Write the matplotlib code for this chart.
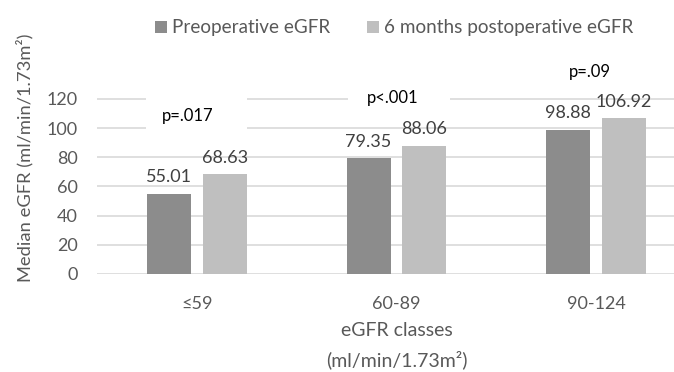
import matplotlib
matplotlib.use("Agg")
import matplotlib.pyplot as plt
from matplotlib.patches import Rectangle
import numpy as np

plt.rcParams['font.family'] = ['Lato', 'DejaVu Sans']

# Data
categories = ["≤59", "60-89", "90-124"]
preop = [55.01, 79.35, 98.88]
postop = [68.63, 88.06, 106.92]
p_values = ["p=.017", "p<.001", "p=.09"]
series_names = ["Preoperative eGFR", "6 months postoperative eGFR"]
y_ticks = [0, 20, 40, 60, 80, 100, 120]

W, H = 674, 372
fig = plt.figure(figsize=(W / 100, H / 100), dpi=100)
ax = fig.add_axes([97 / W, (H - 274) / H, 599 / W, (274 - 69.8) / H])

c_pre = "#8c8c8c"
c_post = "#bfbfbf"
txt_grey = "#595959"

x = np.arange(len(categories))
bw = 0.22
off = 0.14
b1 = ax.bar(x - off, preop, bw, color=c_pre, zorder=3)
b2 = ax.bar(x + off, postop, bw, color=c_post, zorder=3)

ax.set_xlim(-0.5, 2.5)
ax.set_ylim(0, 140)
ax.set_yticks(y_ticks)
ax.set_xticks(x)
ax.set_xticklabels(categories)
ax.tick_params(axis='both', length=0, labelsize=13, colors=txt_grey)
ax.tick_params(axis='y', pad=14)
ax.tick_params(axis='x', pad=16)
for s in ax.spines.values():
    s.set_visible(False)
ax.grid(axis='y', color="#d9d9d9", linewidth=1.2, zorder=0)
ax.set_axisbelow(True)

# Value labels
for bars, vals in ((b1, preop), (b2, postop)):
    for rect, v in zip(bars, vals):
        ax.annotate(f"{v:.2f}", (rect.get_x() + rect.get_width() / 2, v),
                    xytext=(0, 6), textcoords="offset points",
                    ha="center", va="bottom", fontsize=13, color="#404040",
                    zorder=4)

# p-value boxes (white backgrounds hide gridlines)
ax.add_patch(Rectangle((-0.254, 97), 0.506, 26, facecolor="white",
                       edgecolor="none", zorder=1))
ax.text(-0.045, 108.5, p_values[0], ha="center", va="center", fontsize=12,
        color="black", zorder=5)
ax.add_patch(Rectangle((0.758, 114), 0.511, 14, facecolor="white",
                       edgecolor="none", zorder=1))
ax.text(0.983, 120.5, p_values[1], ha="center", va="center", fontsize=12,
        color="black", zorder=5)
ax.text(1.97, 138.5, p_values[2], ha="center", va="center", fontsize=12,
        color="black", zorder=5, clip_on=False)

# Axis titles
fig.text(397 / W, 1 - 331 / H, "eGFR classes", ha="center", va="center",
         fontsize=14, color=txt_grey)
fig.text(397 / W, 1 - 360 / H, "(ml/min/1.73m²)", ha="center", va="center",
         fontsize=14, color=txt_grey)
fig.text(25 / W, 1 - 158 / H, "Median eGFR (ml/min/1.73m²)", ha="center",
         va="center", rotation=90, fontsize=13.2, color=txt_grey)

# Legend, laid out in figure pixels
legend_items = [(155, c_pre, series_names[0]), (367, c_post, series_names[1])]
for x0, col, name in legend_items:
    fig.patches.append(Rectangle((x0 / W, 1 - 33 / H), 12 / W, 12 / H,
                                 transform=fig.transFigure, facecolor=col,
                                 edgecolor="none"))
    fig.text((x0 + 17) / W, 1 - 27 / H, name, ha="left", va="center",
             fontsize=13.6, color=txt_grey)

fig.savefig("out.png", dpi=100)
